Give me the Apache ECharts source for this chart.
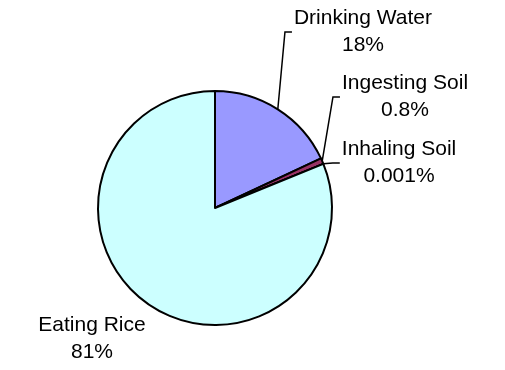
<!DOCTYPE html>
<html>
<head>
<meta charset="utf-8">
<script src="https://cdn.jsdelivr.net/npm/echarts@6/dist/echarts.min.js"></script>
<style>
html,body{margin:0;padding:0;background:#fff;}
#chart{width:505px;height:370px;}
</style>
</head>
<body>
<div id="chart"></div>
<script>
const categories = ['Drinking Water', 'Ingesting Soil', 'Inhaling Soil', 'Eating Rice'];
const values = [18, 0.8, 0.001, 81];
const colors = ['#9999FF', '#993366', '#FFFFCC', '#CCFFFF'];
const labelCenters = [[363, 32], [405, 97], [399, 163], [92, 339]];

const chart = echarts.init(document.getElementById('chart'), null, {renderer: 'canvas'});
const data = categories.map(function (name, i) {
  return {
    name: name,
    value: values[i],
    itemStyle: {color: colors[i]},
    labelLine: {show: i !== 3}
  };
});
chart.setOption({
  animation: false,
  backgroundColor: '#ffffff',
  series: [{
    type: 'pie',
    center: [215, 208],
    radius: 117,
    startAngle: 90,
    clockwise: true,
    avoidLabelOverlap: false,
    minShowLabelAngle: 0,
    data: data,
    itemStyle: {borderColor: '#000', borderWidth: 2},
    emphasis: {disabled: true},
    label: {
      show: true,
      position: 'outside',
      formatter: '{b}\n{c}%',
      fontFamily: 'Liberation Sans, Arial, sans-serif',
      fontSize: 21,
      lineHeight: 27,
      color: '#000',
      align: 'center'
    },
    labelLine: {
      show: true,
      length: 10,
      length2: 10,
      lineStyle: {color: '#000', width: 1.5}
    },
    labelLayout: function (p) {
      const c = labelCenters[p.dataIndex];
      const out = {x: c[0], y: c[1], align: 'center', verticalAlign: 'middle'};
      if (p.labelLinePoints && p.dataIndex !== 3) {
        const s = p.labelLinePoints[0];
        const left = c[0] - p.labelRect.width / 2 - 2;
        out.labelLinePoints = [s, [left - 7, c[1]], [left, c[1]]];
      }
      return out;
    }
  }]
});
</script>
</body>
</html>
